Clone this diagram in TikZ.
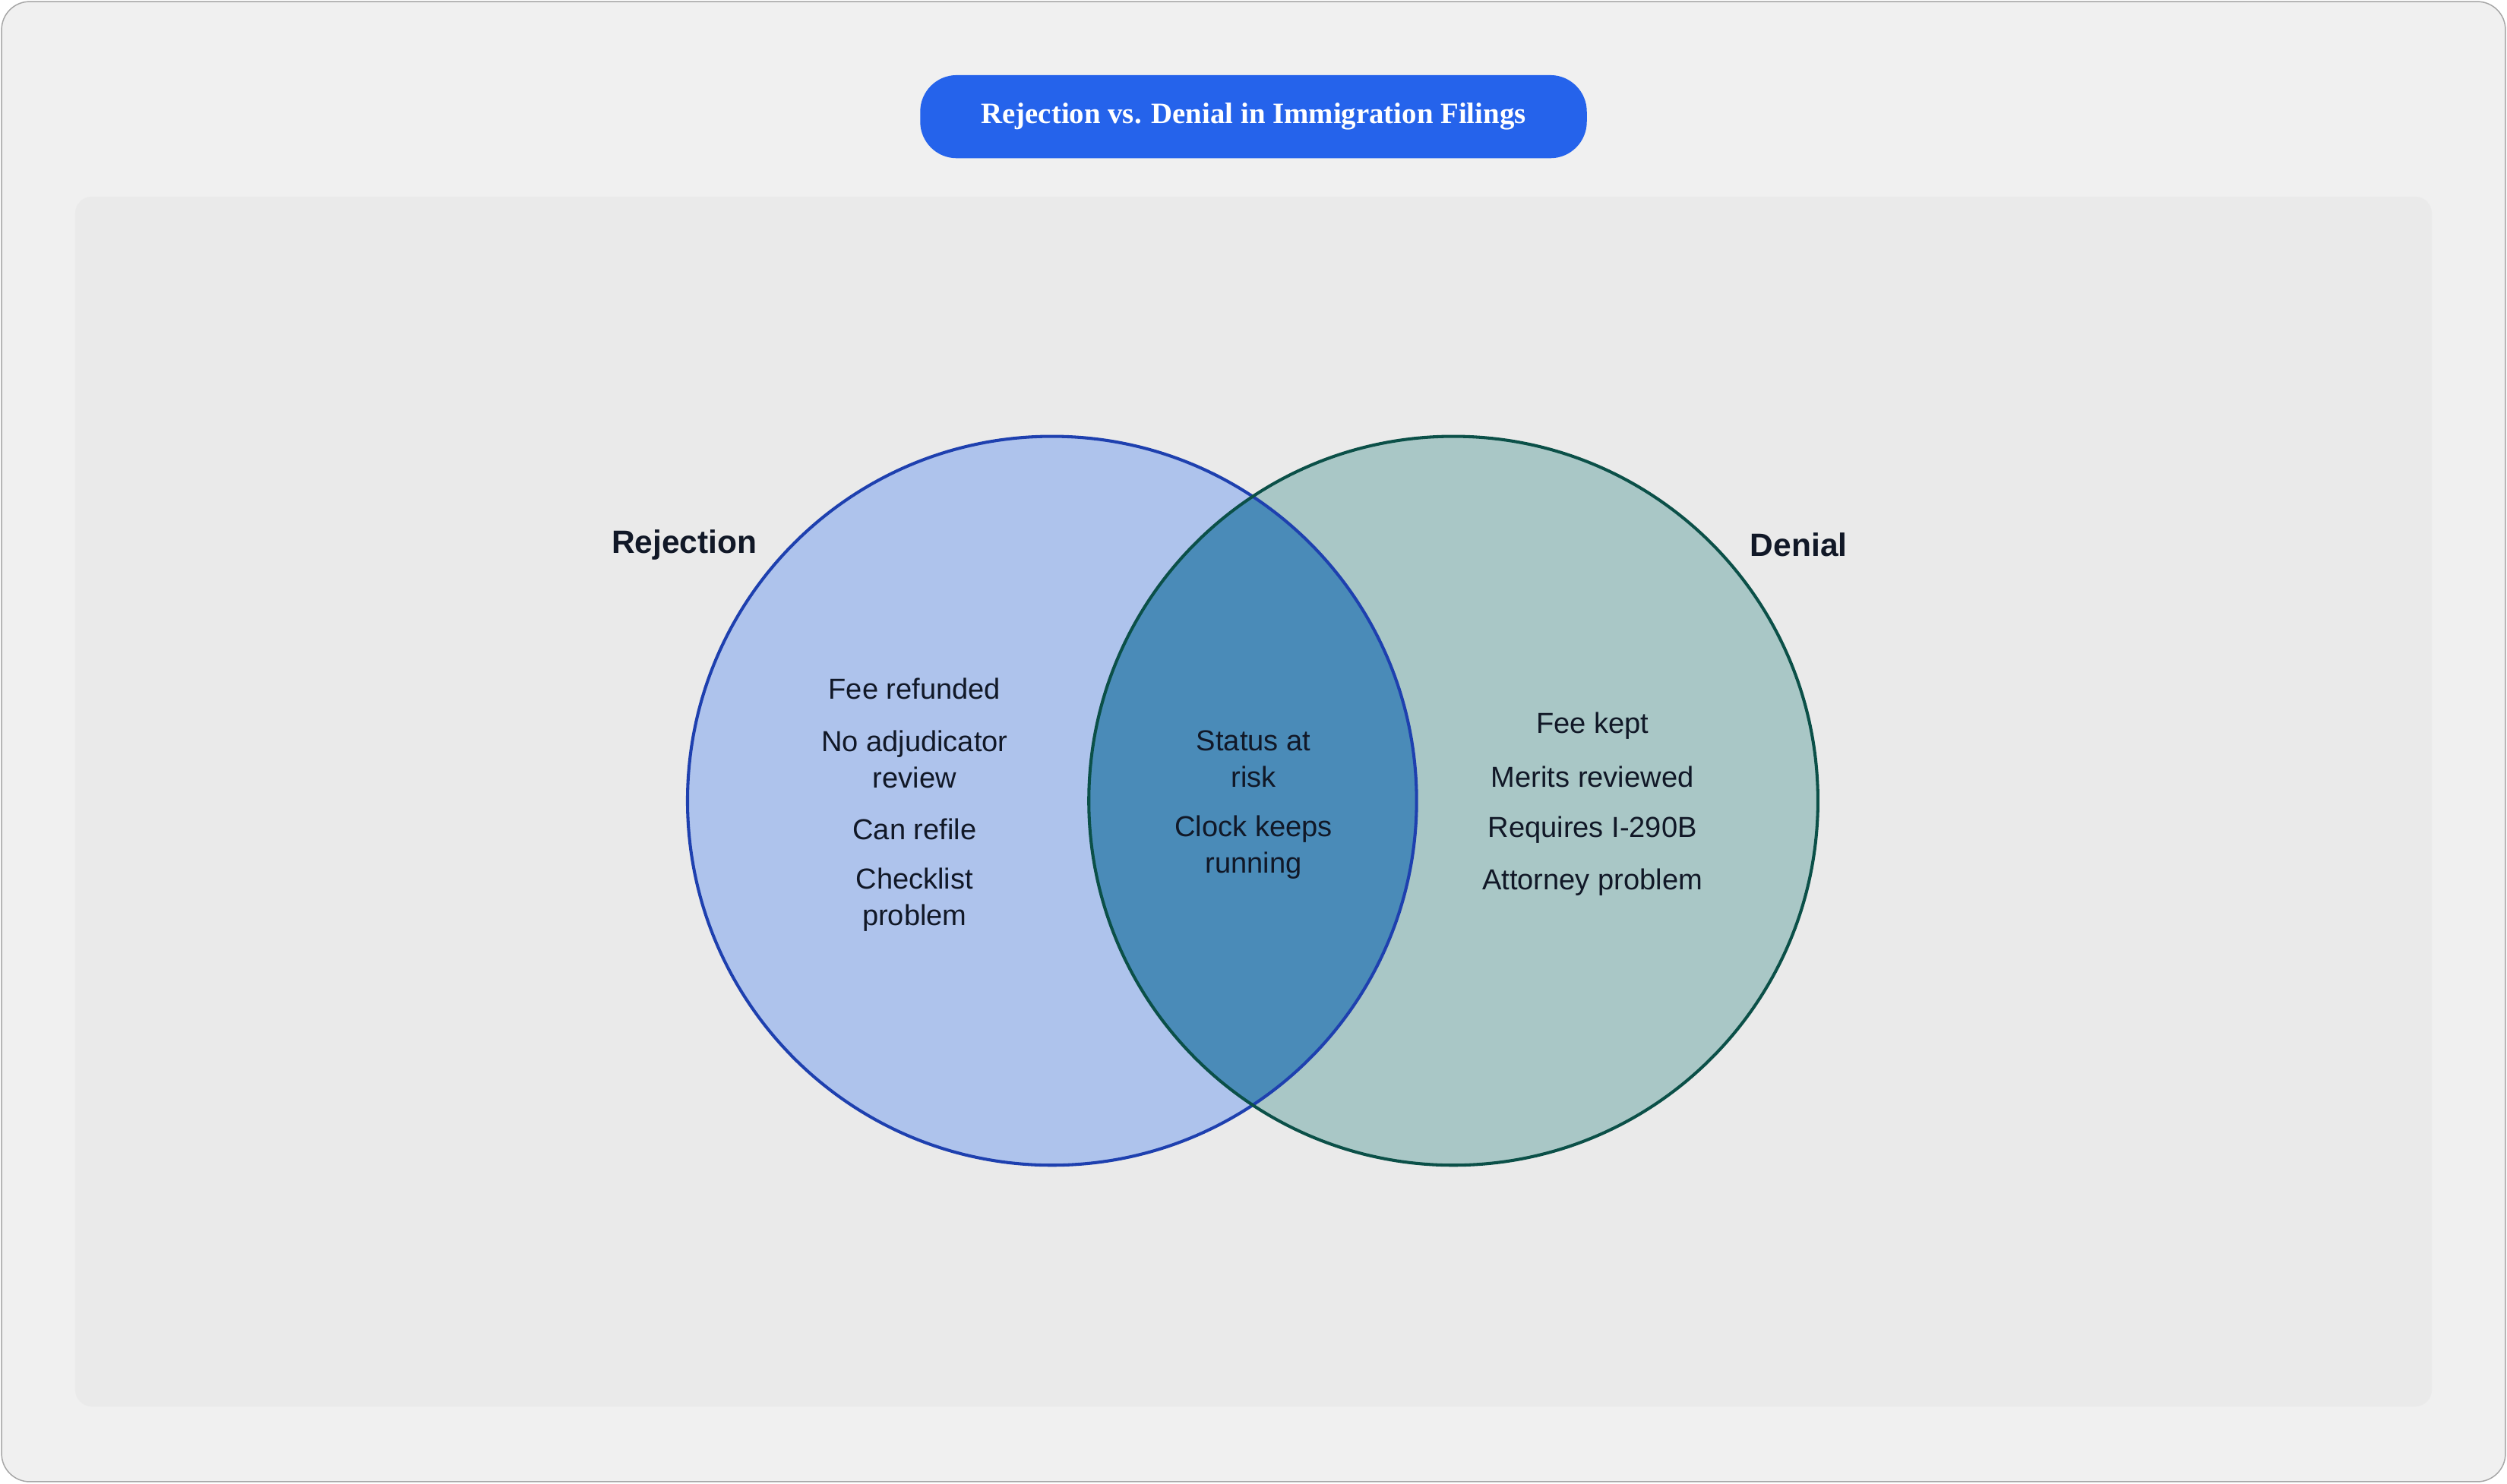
\documentclass[tikz,border=0pt]{standalone}
\usepackage{fontspec}
\setmainfont{Liberation Sans}
\newfontfamily\titlefont{Liberation Serif}
\usetikzlibrary{positioning}
\definecolor{pagebg}{HTML}{F0F0F0}
\definecolor{panelbg}{HTML}{EAEAEA}
\definecolor{titleblue}{HTML}{2563EB}
\definecolor{rejfill}{HTML}{AEC3EC}
\definecolor{rejline}{HTML}{1E40AF}
\definecolor{denfill}{HTML}{A9C7C6}
\definecolor{denline}{HTML}{0B5048}
\definecolor{bothfill}{HTML}{4A8BB8}
\definecolor{inktext}{HTML}{111827}
\tikzset{
    set label/.style={font=\fontsize{11.5}{14}\selectfont\bfseries, text=inktext},
    item/.style={font=\fontsize{10.3}{13}\selectfont, text=inktext, align=center},
    set circle/.style={line width=1.1pt},
}
\begin{document}
\begin{tikzpicture}[x=0.02cm,y=-0.02cm]
    \useasboundingbox (0,0) rectangle (1568,928);
    \draw[gray!70, fill=pagebg, rounded corners=10pt] (1,1) rectangle (1567,927);
    \fill[panelbg, rounded corners=6pt] (47,123) rectangle (1521,880);

    % title
    \node[fill=titleblue, rounded corners=13pt, minimum width=8.34cm, minimum height=1.04cm,
        text=white, font=\titlefont\fontsize{10.5}{12}\selectfont\bfseries] (title) at (784,73)
        {Rejection vs. Denial in Immigration Filings};

    % sets
    \coordinate (rej) at (658,501);
    \coordinate (den) at (909,501);
    \fill[rejfill] (rej) circle[radius=228];
    \fill[denfill] (den) circle[radius=228];
    \begin{scope}
        \clip (rej) circle[radius=228];
        \fill[bothfill] (den) circle[radius=228];
    \end{scope}
    \draw[set circle, rejline] (rej) circle[radius=228];
    \draw[set circle, denline] (den) circle[radius=228];

    \node[set label] (rejlabel) at (428,341) {Rejection};
    \node[set label] (denlabel) at (1125,341) {Denial};

    % items
    \node[item] (r1) at (572,431) {Fee refunded};
    \node[item] (r2) at (572,475) {No adjudicator\\review};
    \node[item] (r3) at (572,519) {Can refile};
    \node[item] (r4) at (572,563) {Checklist\\problem};

    \node[item] (b1) at (784,475) {Status at\\risk};
    \node[item] (b2) at (784,530) {Clock keeps\\running};

    \node[item] (d1) at (996,454) {Fee kept};
    \node[item] (d2) at (996,486) {Merits reviewed};
    \node[item] (d3) at (996,519) {Requires I-290B};
    \node[item] (d4) at (996,552) {Attorney problem};
\end{tikzpicture}
\end{document}
